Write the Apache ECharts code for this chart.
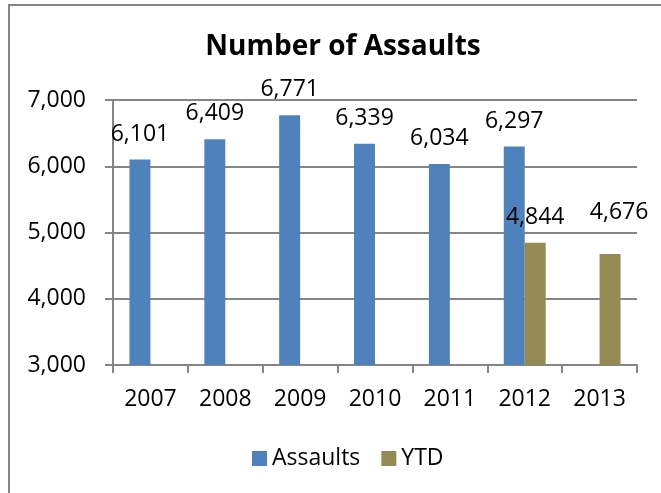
<!DOCTYPE html>
<html>
<head>
<meta charset="utf-8">
<script src="https://cdn.jsdelivr.net/npm/echarts@6/dist/echarts.min.js"></script>
<style>
  html, body { margin: 0; padding: 0; background: #fff; }
  #main { width: 661px; height: 493px; }
</style>
</head>
<body>
<div id="main"></div>
<script>
var years = ['2007', '2008', '2009', '2010', '2011', '2012', '2013'];
var assaults = [6101, 6409, 6771, 6339, 6034, 6297, null];
var ytd = [null, null, null, null, null, 4844, 4676];

var chart = echarts.init(document.getElementById('main'));
var font = '"Open Sans", sans-serif';
var grey = '#868686';

var labelStyle = {
    show: true,
    position: 'top',
    distance: 14,
    color: '#000',
    fontFamily: font,
    fontSize: 23,
    formatter: function (p) {
        return p.value == null ? '' : p.value.toLocaleString('en-US');
    }
};

// the 2013 label sits a bit higher and to the right in the original
var ytdData = ytd.map(function (v, i) {
    if (i === 6) {
        return {value: v, label: {distance: 30, offset: [9, 0]}};
    }
    return v;
});

var options = {
    animation: false,
    title: {
        text: 'Number of Assaults',
        left: 338,
        textAlign: 'center',
        top: 28,
        textStyle: {
            fontFamily: font,
            fontWeight: 'bold',
            fontSize: 28,
            color: '#000'
        }
    },
    graphic: [{
        type: 'rect',
        shape: {x: 9, y: 5, width: 800, height: 700},
        style: {fill: 'none', stroke: grey, lineWidth: 2}
    }],
    legend: {
        data: ['Assaults', 'YTD'],
        left: 247,
        top: 442,
        itemWidth: 15,
        itemHeight: 15,
        itemGap: 21,
        icon: 'rect',
        textStyle: {fontFamily: font, fontSize: 23, color: '#000'}
    },
    grid: {
        left: 113,
        right: 24,
        top: 100,
        bottom: 128
    },
    xAxis: {
        type: 'category',
        data: years,
        axisLine: {lineStyle: {color: grey, width: 2}},
        axisTick: {show: true, length: 8, lineStyle: {color: grey, width: 2}},
        axisLabel: {
            margin: 23,
            color: '#000',
            fontFamily: font,
            fontSize: 23
        }
    },
    yAxis: {
        type: 'value',
        min: 3000,
        max: 7000,
        interval: 1000,
        axisLine: {show: true, lineStyle: {color: grey, width: 2}},
        axisTick: {show: true, length: 8, lineStyle: {color: grey, width: 2}},
        splitLine: {lineStyle: {color: grey, width: 2}},
        axisLabel: {
            margin: 27,
            color: '#000',
            fontFamily: font,
            fontSize: 23,
            formatter: function (v) { return v.toLocaleString('en-US'); }
        }
    },
    series: [
        {
            name: 'Assaults',
            type: 'bar',
            data: assaults,
            barGap: '0%',
            barCategoryGap: '44%',
            itemStyle: {color: '#4F81BD'},
            label: labelStyle
        },
        {
            name: 'YTD',
            type: 'bar',
            data: ytdData,
            itemStyle: {color: '#948A54'},
            label: labelStyle
        }
    ]
};

chart.setOption(options);
</script>
</body>
</html>
